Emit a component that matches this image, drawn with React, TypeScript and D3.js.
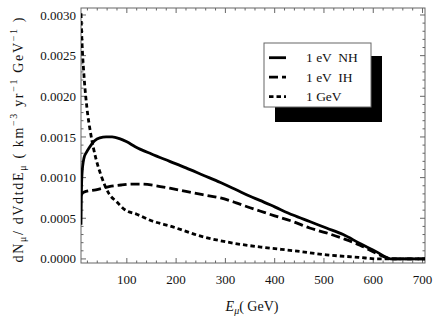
import React from "react";
import * as d3 from "d3";

const energyNH = [7, 7.8, 9, 13, 18, 24, 34, 45, 58, 70, 85, 100, 117, 150, 187, 220, 255, 290, 322, 350, 370, 400, 437, 471, 505, 539, 573, 606, 630, 637, 705];
const valuesNH = [0.00042, 0.0008, 0.00104, 0.00124, 0.00131, 0.00137, 0.00145, 0.00149, 0.0015, 0.0015, 0.00148, 0.00144, 0.00138, 0.00129, 0.0012, 0.00112, 0.00103, 0.00094, 0.00085, 0.00077, 0.00072, 0.00064, 0.00054, 0.00046, 0.00038, 0.0003, 0.00019, 0.00009, 0.00001, 0, 0];

const energyIH = [7, 10, 17, 37, 64, 90, 110, 130, 160, 187, 220, 254, 290, 322, 350, 370, 400, 437, 471, 505, 539, 573, 606, 630, 637, 705];
const valuesIH = [0.00078, 0.00081, 0.00083, 0.00085, 0.00089, 0.00091, 0.00092, 0.00092, 0.0009, 0.00087, 0.00083, 0.00079, 0.00075, 0.00069, 0.00063, 0.00059, 0.00053, 0.00046, 0.00038, 0.00032, 0.00025, 0.00017, 0.00007, 0.00001, 0, 0];

const energyGeV = [7, 9, 13, 19, 27, 37, 47, 64, 80, 95, 120, 150, 190, 250, 320, 380, 440, 505, 570, 610, 705];
const valuesGeV = [0.00302, 0.00267, 0.00226, 0.00186, 0.00153, 0.00124, 0.00104, 0.0008, 0.0007, 0.00061, 0.00055, 0.00047, 0.0004, 0.00028, 0.00019, 0.00014, 0.0001, 0.00005, 0.00002, 0, 0];

const xTickValues = [100, 200, 300, 400, 500, 600, 700];
const yTickValues = [0, 0.0005, 0.001, 0.0015, 0.002, 0.0025, 0.003];
const yTickLabels = ["0.0000", "0.0005", "0.0010", "0.0015", "0.0020", "0.0025", "0.0030"];
const legendLabels = ["1 eV  NH", "1 eV  IH", "1 GeV"];

const W = 436, H = 328;
const L = 81, R = 425, T = 8, B = 263;
const serif = "'Times New Roman', 'Liberation Serif', Times, serif";
const frameColor = "#666";

export default function App() {
  const x = d3.scaleLinear().domain([7, 705]).range([L, R]);
  const y = d3.scaleLinear().domain([-0.00005, 0.003086]).range([B, T]);

  const mk = (xs: number[], ys: number[]) =>
    d3.line<number>().x((_, i) => x(xs[i])).y((_, i) => y(ys[i])).curve(d3.curveMonotoneX)(xs) || "";

  const series = [
    { d: mk(energyGeV, valuesGeV), dash: "4.5,3" },
    { d: mk(energyIH, valuesIH), dash: "9,4" },
    { d: mk(energyNH, valuesNH), dash: "" },
  ];
  const legendDash = ["", "9,4", "4.5,3"];

  const xMinor = d3.range(20, 701, 20).filter((v) => v % 100 !== 0);
  const yMinor = d3.range(0, 31).map((v) => v * 0.0001).filter((_, i) => i % 5 !== 0);

  const lw = 2.8;
  return (
    <svg width={W} height={H} style={{ position: "fixed", left: 0, top: 0, background: "#fff" }}>
      <defs>
        <clipPath id="plot">
          <rect x={L} y={T} width={R - L} height={B - T} />
        </clipPath>
      </defs>
      <rect x={0} y={0} width={W} height={H} fill="#fff" />
      <rect x={L} y={T} width={R - L} height={B - T} fill="none" stroke={frameColor} strokeWidth={1} />
      {xTickValues.map((v) => (
        <g key={"xt" + v}>
          <line x1={x(v)} x2={x(v)} y1={B} y2={B - 5} stroke={frameColor} />
          <line x1={x(v)} x2={x(v)} y1={T} y2={T + 5} stroke={frameColor} />
          <text x={x(v)} y={284} fontSize={13} fontFamily={serif} textAnchor="middle" fill="#111">{v}</text>
        </g>
      ))}
      {xMinor.map((v) => (
        <g key={"xm" + v}>
          <line x1={x(v)} x2={x(v)} y1={B} y2={B - 2.5} stroke={frameColor} />
          <line x1={x(v)} x2={x(v)} y1={T} y2={T + 2.5} stroke={frameColor} />
        </g>
      ))}
      {yTickValues.map((v, i) => (
        <g key={"yt" + i}>
          <line x1={L} x2={L + 5} y1={y(v)} y2={y(v)} stroke={frameColor} />
          <line x1={R} x2={R - 5} y1={y(v)} y2={y(v)} stroke={frameColor} />
          <text x={76} y={y(v)} dy="0.35em" fontSize={13} fontFamily={serif} textAnchor="end" fill="#111">{yTickLabels[i]}</text>
        </g>
      ))}
      {yMinor.map((v, i) => (
        <g key={"ym" + i}>
          <line x1={L} x2={L + 2.5} y1={y(v)} y2={y(v)} stroke={frameColor} />
          <line x1={R} x2={R - 2.5} y1={y(v)} y2={y(v)} stroke={frameColor} />
        </g>
      ))}
      <g clipPath="url(#plot)">
        {series.map((s, i) => (
          <path key={i} d={s.d} fill="none" stroke="#000" strokeWidth={lw} strokeDasharray={s.dash || undefined} strokeLinejoin="round" />
        ))}
      </g>
      <rect x={275} y={56} width={107} height={66} fill="#000" />
      <rect x={264} y={43} width={107} height={64} fill="#fff" stroke="#666" strokeWidth={1} />
      {legendLabels.map((t, i) => (
        <g key={"lg" + i}>
          <line x1={269} x2={286} y1={57.7 + i * 19.5} y2={57.7 + i * 19.5} stroke="#000" strokeWidth={lw} strokeDasharray={legendDash[i] || undefined} />
          <text x={306} y={57.7 + i * 19.5} dy="0.35em" fontSize={13.5} fontFamily={serif} fill="#111" style={{ whiteSpace: "pre" }}>{t}</text>
        </g>
      ))}
      <text x={252} y={311} fontSize={14} fontFamily={serif} textAnchor="middle" fill="#111">
        <tspan fontStyle="italic">E</tspan>
        <tspan fontSize={10} dy={3} fontStyle="italic">μ</tspan>
        <tspan dy={-3}>( GeV)</tspan>
      </text>
      <text transform="translate(23,140) rotate(-90)" fontSize={14} fontFamily={serif} textAnchor="middle" fill="#111" textLength={245} lengthAdjust="spacing">
        <tspan>dN</tspan>
        <tspan fontSize={10} dy={3}>μ</tspan>
        <tspan dy={-3}>/ dVdtdE</tspan>
        <tspan fontSize={10} dy={3}>μ</tspan>
        <tspan dy={-3}> ( km</tspan>
        <tspan fontSize={10} dy={-6}>−3</tspan>
        <tspan dy={6}> yr</tspan>
        <tspan fontSize={10} dy={-6}>−1</tspan>
        <tspan dy={6}> GeV</tspan>
        <tspan fontSize={10} dy={-6}>−1</tspan>
        <tspan dy={6}> )</tspan>
      </text>
    </svg>
  );
}
